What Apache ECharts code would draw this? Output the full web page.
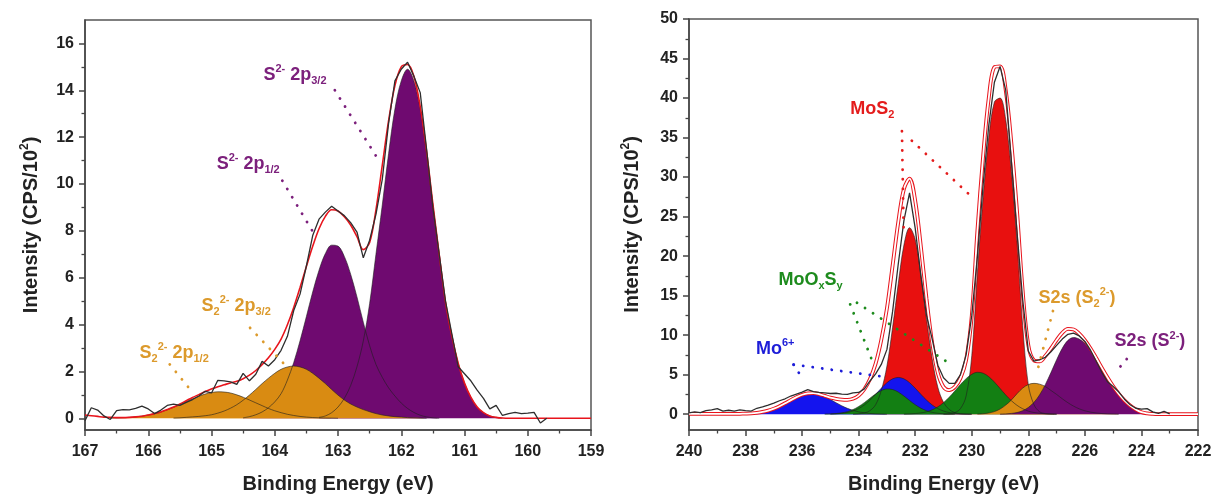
<!DOCTYPE html>
<html>
<head>
<meta charset="utf-8">
<script src="https://cdn.jsdelivr.net/npm/echarts@6/dist/echarts.min.js"></script>
<style>
html,body{margin:0;padding:0;background:#fff;}
#c{width:1215px;height:499px;}
</style>
</head>
<body>
<div id="c"></div>
<script>
// ---------- LEFT PANEL (S 2p), 0.1 eV steps, energies decreasing from start ----------
const leftStep = 0.1;
const leftDataStart = 167.0;
const leftData = [-0.1,0.45,0.35,0.1,-0.05,0.33,0.37,0.36,0.42,0.52,0.4,0.2,0.35,0.55,0.6,0.55,0.68,0.8,0.95,1.15,
  1.08,1.62,1.6,1.55,1.45,1.92,1.6,1.88,2.43,2.23,2.5,2.9,3.5,4.6,5.3,6.5,7.8,8.5,8.8,9.05,
  8.85,8.65,8.35,7.95,6.85,7.6,8.7,10.2,12.6,14.4,14.9,15.2,14.6,13.9,11.5,9.0,7.0,5.0,3.6,2.2,
  1.9,1.6,1.2,0.85,0.4,0.55,0.12,0.2,0.25,0.2,0.22,0.25,-0.2,0.0];
const leftEnvStart = 167.0;
const leftEnv = [0.14,0.11,0.08,0.05,0.04,0.03,0.03,0.04,0.06,0.09,0.14,0.2,0.27,0.37,0.48,0.61,0.75,0.89,1.01,1.14,
  1.25,1.35,1.43,1.51,1.58,1.69,1.84,2.04,2.29,2.58,2.94,3.38,3.99,4.73,5.58,6.48,7.34,8.09,8.62,8.9,
  8.85,8.6,8.25,7.75,7.2,7.5,8.9,10.8,12.7,14.2,15.0,15.1,14.6,13.3,11.4,9.15,7.0,4.95,3.5,2.35,
  1.5,0.9,0.48,0.24,0.1,0.04,0.01,0,0,0,0,0,0,0,0,0,0,0,0,0,0];
const leftS2p32Start = 163.3;   // S2- 2p3/2
const leftS2p32 = [0.04,0.1,0.24,0.48,0.85,1.4,2.2,3.3,4.9,7.0,9.1,11.3,13.2,14.4,14.9,14.4,13.2,11.3,9.1,7.0,
  4.9,3.5,2.35,1.5,0.9,0.48,0.24,0.1,0.04,0];
const leftS2p12Start = 164.5;   // S2- 2p1/2
const leftS2p12 = [0.02,0.07,0.15,0.27,0.45,0.7,1.05,1.63,2.38,3.31,4.34,5.39,6.32,7.03,7.39,7.35,6.91,6.15,5.18,4.1,
  3.1,2.3,1.75,1.3,0.95,0.65,0.42,0.25,0.13,0.06,0.02,0];
const leftS22p32Start = 165.6;  // S2 2- 2p3/2
const leftS22p32 = [0.01,0.02,0.04,0.06,0.08,0.11,0.15,0.22,0.31,0.43,0.58,0.77,0.99,1.23,1.48,1.71,1.92,2.09,2.19,2.23,
  2.19,2.09,1.92,1.71,1.48,1.23,0.99,0.78,0.61,0.48,0.37,0.28,0.2,0.14,0.1,0.07,0.05,0.03,0.02,0.01,0];
const leftS22p12Start = 166.6;  // S2 2- 2p1/2
const leftS22p12 = [0.01,0.014,0.024,0.038,0.061,0.093,0.137,0.196,0.27,0.362,0.468,0.586,0.71,0.83,0.94,1.035,1.1,1.13,1.12,1.08,
  1.0,0.9,0.78,0.66,0.54,0.42,0.32,0.24,0.17,0.12,0.079,0.051,0.032,0.019,0.01,0.006,0];
const leftYLabels = [0,2,4,6,8,10,12,14,16];
const leftYMinor = [1,3,5,7,9,11,13,15];

// ---------- RIGHT PANEL (Mo 3d / S 2s), 0.2 eV steps ----------
const rightStep = 0.2;
const rightDataStart = 240.0;
const rightData = [0.17,0.3,0.2,0.45,0.55,0.71,0.38,0.5,0.4,0.55,0.45,0.4,0.75,0.92,1.15,1.4,1.7,1.95,2.3,2.55,
  2.8,3.1,2.85,2.75,2.7,2.62,2.65,2.55,2.5,2.7,2.75,3.2,4.2,5.1,6.3,8.2,13.0,19.0,24.5,28.0,
  23.5,17.5,12.5,9.5,6.2,4.6,3.9,3.9,5.0,7.5,12.5,20.0,29.0,36.5,42.0,44.0,41.0,32.0,23.0,14.5,
  8.0,6.7,6.9,7.2,7.9,8.7,9.5,10.1,10.25,9.9,9.2,8.1,6.7,5.3,4.1,3.5,2.8,1.9,1.2,0.75,
  0.65,0.7,0.3,0.1,0.35,0.05];
const rightEnvStart = 240.0;
const rightEnv = [0.05,0.05,0.04,0.04,0.03,0.03,0.03,0.03,0.03,0.05,0.07,0.1,0.17,0.28,0.46,0.7,1.0,1.38,1.78,2.16,
  2.46,2.63,2.66,2.54,2.32,2.1,1.95,1.85,1.82,1.95,2.35,3.15,4.45,6.4,9.4,13.4,18.8,24.3,28.5,29.8,
  27.0,21.2,14.6,9.0,5.2,3.45,3.05,3.45,4.56,6.84,12.45,23.3,32.6,40.0,43.9,44.0,41.0,34.3,25.7,15.6,
  8.7,6.8,6.67,7.37,8.32,9.38,10.28,10.79,10.72,10.18,9.36,8.31,7.11,5.86,4.64,3.53,2.57,1.75,1.1,0.6,
  0.25,0.1,0.04,0.01,0,0,0,0,0,0,0];
const rightMo6aStart = 238.2;
const rightMo6a = [0.02,0.04,0.08,0.15,0.26,0.44,0.68,0.99,1.37,1.77,2.15,2.45,2.62,2.64,2.49,2.21,1.85,1.45,1.07,0.74,
  0.48,0.29,0.17,0.09,0.05,0.02,0];
const rightMo6bStart = 235.0;
const rightMo6b = [0.02,0.04,0.1,0.21,0.4,0.71,1.17,1.78,2.51,3.29,3.99,4.47,4.65,4.47,3.99,3.29,2.51,1.78,1.17,0.71,
  0.4,0.21,0.1,0.04,0.02,0];
const rightMoOxaStart = 235.2;
const rightMoOxa = [0.02,0.04,0.08,0.17,0.32,0.58,0.97,1.46,2.02,2.57,2.99,3.19,3.12,2.8,2.3,1.74,1.2,0.76,0.44,0.23,
  0.11,0.05,0.02,0];
const rightMoOxbStart = 232.4;
const rightMoOxb = [0.02,0.04,0.08,0.16,0.31,0.55,0.93,1.46,2.14,2.93,3.76,4.5,5.05,5.3,5.19,4.75,4.07,3.26,2.44,1.71,
  1.12,0.69,0.39,0.21,0.11,0.05,0.02,0];
const rightMoS2aStart = 234.2;
const rightMoS2a = [0.01,0.05,0.15,0.45,1.2,3.0,6.1,11.0,16.5,21.4,23.6,22.1,17.6,12.0,7.0,3.4,1.5,0.6,0.2,0.06,0.02,0];
const rightMoS2bStart = 231.0;
const rightMoS2b = [0.02,0.05,0.2,0.7,2.3,7.4,18.0,27.4,35.0,39.5,40.0,37.3,30.7,21.8,11.2,3.7,1.2,0.3,0.08,0.03,0];
const rightS22Start = 229.8;
const rightS22 = [0.02,0.06,0.15,0.33,0.65,1.15,1.8,2.6,3.3,3.75,3.9,3.8,3.5,3.0,2.5,1.95,1.45,1.02,0.68,0.43,
  0.26,0.15,0.08,0.04,0.02,0];
const rightS2Start = 229.0;
const rightS2 = [0.01,0.04,0.1,0.21,0.44,0.85,1.5,2.46,3.74,5.27,6.88,8.33,9.34,9.7,9.5,8.93,8.05,6.96,5.78,4.6,
  3.51,2.57,1.75,1.1,0.6,0.25,0.1,0.04,0.01,0];
const rightYLabels = [0,5,10,15,20,25,30,35,40,45,50];
const rightYMinor = [2.5,7.5,12.5,17.5,22.5,27.5,32.5,37.5,42.5,47.5];

// ---------- helpers ----------
function pairs(start, step, vals) {
  return vals.map((v, i) => [Math.round((start - i * step) * 100) / 100, v]);
}
const FONT = '"Liberation Sans", Arial, Helvetica, sans-serif';
const C = {
  purple: '#6f0a70', orange: '#d98b12', red: '#e8100f', blue: '#1414ee', green: '#137f13',
  lPurple: '#7c207c', lOrange: '#dc9a2c', lRed: '#e41c1c', lGreen: '#1d8b1d', lBlue: '#1d1dd8'
};
const OUTLINE = { color: 'rgba(30,30,30,0.85)', width: 0.7 };

function fill(name, xi, yi, data, color, extra) {
  return Object.assign({
    name, type: 'line', xAxisIndex: xi, yAxisIndex: yi, data,
    showSymbol: false, smooth: 0.35, silent: true, animation: false,
    lineStyle: OUTLINE, areaStyle: { color, opacity: 1 }, itemStyle: { color }
  }, extra || {});
}
function plain(name, xi, yi, data, color, width, smooth, extra) {
  return Object.assign({
    name, type: 'line', xAxisIndex: xi, yAxisIndex: yi, data,
    showSymbol: false, smooth: smooth, silent: true, animation: false,
    lineStyle: { color, width }, itemStyle: { color }
  }, extra || {});
}
const richBase = {
  m: { fontSize: 18, fontWeight: 'bold', fontFamily: FONT },
  sup: { fontSize: 11, fontWeight: 'bold', fontFamily: FONT, padding: [0, 0, 12, 0] },
  sub: { fontSize: 11, fontWeight: 'bold', fontFamily: FONT, padding: [12, 0, 0, 0] }
};
function lbl(coord, text, color) {
  return { coord, label: { show: true, position: 'inside', formatter: text, color, rich: richBase } };
}
function dots(a, b, color) {
  return [{ coord: a, lineStyle: { color, type: [0.1, 9.5], width: 2.8, cap: 'round' } }, { coord: b }];
}
function markers(labels, lines) {
  return {
    markPoint: { symbol: 'circle', symbolSize: 1, silent: true, animation: false,
      itemStyle: { color: 'rgba(0,0,0,0)' }, data: labels },
    markLine: { symbol: ['none', 'none'], silent: true, animation: false,
      label: { show: false }, emphasis: { disabled: true }, data: lines }
  };
}

const axisText = { fontSize: 16, fontWeight: 'bold', color: '#222', fontFamily: FONT };
const nameText = { fontSize: 20, fontWeight: 'bold', color: '#222', fontFamily: FONT };
const axLine = { show: true, onZero: false, lineStyle: { color: '#444', width: 1.5 } };

function xAx(gi, min, max, interval) {
  return {
    type: 'value', gridIndex: gi, min, max, interval, inverse: true,
    axisLine: axLine,
    axisTick: { show: true, length: 6, lineStyle: { color: '#444', width: 1.5 } },
    minorTick: { show: true, splitNumber: 2, length: 3.5, lineStyle: { color: '#444', width: 1.3 } },
    axisLabel: Object.assign({ margin: 14 }, axisText),
    splitLine: { show: false }, minorSplitLine: { show: false },
    name: 'Binding Energy (eV)', nameLocation: 'middle', nameGap: 44, nameTextStyle: nameText
  };
}
function yAx(gi, min, max, labels, gap) {
  return {
    type: 'value', gridIndex: gi, min, max,
    axisLine: axLine,
    axisTick: { show: true, length: 6, customValues: labels, lineStyle: { color: '#444', width: 1.5 } },
    axisLabel: Object.assign({ margin: 11, customValues: labels }, axisText),
    splitLine: { show: false },
    name: '{n|Intensity (CPS/10}{s|2}{n|)}', nameLocation: 'middle', nameGap: gap,
    nameTextStyle: { rich: {
      n: nameText,
      s: { fontSize: 12, fontWeight: 'bold', color: '#222', fontFamily: FONT, padding: [0, 0, 13, 0] } } }
  };
}
function yMinor(gi, min, max, vals) {
  return {
    type: 'value', gridIndex: gi, min, max, position: 'left',
    axisLine: { show: false },
    axisTick: { show: true, length: 3.5, customValues: vals, lineStyle: { color: '#444', width: 1.3 } },
    axisLabel: { show: false }, splitLine: { show: false }
  };
}

const leftSeries = [
  fill('S2- 2p3/2', 0, 0, pairs(leftS2p32Start, leftStep, leftS2p32), C.purple),
  fill('S2- 2p1/2', 0, 0, pairs(leftS2p12Start, leftStep, leftS2p12), C.purple),
  fill('S2 2- 2p3/2', 0, 0, pairs(leftS22p32Start, leftStep, leftS22p32), C.orange),
  fill('S2 2- 2p1/2', 0, 0, pairs(leftS22p12Start, leftStep, leftS22p12), C.orange),
  plain('Envelope L', 0, 0, pairs(leftEnvStart, leftStep, leftEnv), '#e8141c', 1.6, 0.35),
  plain('Data L', 0, 0, pairs(leftDataStart, leftStep, leftData), '#2e2e2e', 1.3, false,
    markers([
      lbl([163.68, 14.66], '{m|S}{sup|2-}{m| 2p}{sub|3/2}', C.lPurple),
      lbl([164.42, 10.85], '{m|S}{sup|2-}{m| 2p}{sub|1/2}', C.lPurple),
      lbl([164.61, 4.79], '{m|S}{sub|2}{sup|2-}{m| 2p}{sub|3/2}', C.lOrange),
      lbl([165.59, 2.8], '{m|S}{sub|2}{sup|2-}{m| 2p}{sub|1/2}', C.lOrange)
    ], [
      dots([163.05, 14.0], [162.33, 10.9], C.lPurple),
      dots([163.88, 10.14], [163.41, 8.02], C.lPurple),
      dots([164.39, 3.86], [163.86, 2.34], C.lOrange),
      dots([165.66, 2.3], [165.34, 1.24], C.lOrange)
    ]))
];

const rightSeries = [
  fill('MoS2 3d3/2', 1, 2, pairs(rightMoS2aStart, rightStep, rightMoS2a), C.red),
  fill('MoS2 3d5/2', 1, 2, pairs(rightMoS2bStart, rightStep, rightMoS2b), C.red),
  fill('Mo6+ a', 1, 2, pairs(rightMo6aStart, rightStep, rightMo6a), C.blue),
  fill('Mo6+ b', 1, 2, pairs(rightMo6bStart, rightStep, rightMo6b), C.blue),
  fill('MoOxSy a', 1, 2, pairs(rightMoOxaStart, rightStep, rightMoOxa), C.green),
  fill('MoOxSy b', 1, 2, pairs(rightMoOxbStart, rightStep, rightMoOxb), C.green),
  fill('S2s S2 2-', 1, 2, pairs(rightS22Start, rightStep, rightS22), C.orange),
  fill('S2s S2-', 1, 2, pairs(rightS2Start, rightStep, rightS2), C.purple),
  plain('Envelope R', 1, 2, pairs(rightEnvStart, rightStep, rightEnv), '#e8141c', 3.8, 0.35),
  plain('Envelope R core', 1, 2, pairs(rightEnvStart, rightStep, rightEnv), '#ffffff', 1.8, 0.35),
  plain('Data R', 1, 2, pairs(rightDataStart, rightStep, rightData), '#2e2e2e', 1.3, false,
    markers([
      lbl([233.52, 38.56], '{m|MoS}{sub|2}', C.lRed),
      lbl([235.7, 17.0], '{m|MoO}{sub|x}{m|S}{sub|y}', C.lGreen),
      lbl([236.95, 8.2], '{m|Mo}{sup|6+}', C.lBlue),
      lbl([226.28, 14.7], '{m|S2s (S}{sub|2}{sup|2-}{m|)}', C.lOrange),
      lbl([223.7, 9.2], '{m|S2s (S}{sup|2-}{m|)}', C.lPurple)
    ], [
      dots([232.47, 35.8], [232.41, 23.3], C.lRed),
      dots([232.12, 34.6], [230.0, 27.5], C.lRed),
      dots([234.3, 13.9], [233.44, 6.0], C.lGreen),
      dots([234.06, 14.1], [230.76, 6.35], C.lGreen),
      dots([236.3, 6.27], [233.18, 4.77], C.lBlue),
      dots([236.3, 6.27], [235.95, 4.3], C.lBlue),
      dots([227.13, 13.05], [227.68, 5.5], C.lOrange),
      dots([224.52, 6.98], [224.87, 5.5], C.lPurple)
    ]))
];

const chart = echarts.init(document.getElementById('c'), null, { renderer: 'canvas' });
chart.setOption({
  backgroundColor: '#ffffff',
  animation: false,
  grid: [
    { left: 85, top: 20, width: 506, height: 413, show: true, borderColor: '#555', borderWidth: 1.5, backgroundColor: 'transparent' },
    { left: 689, top: 19, width: 509, height: 414, show: true, borderColor: '#555', borderWidth: 1.5, backgroundColor: 'transparent' }
  ],
  xAxis: [xAx(0, 159, 167, 1), xAx(1, 222, 240, 2)],
  yAxis: [
    yAx(0, -0.5, 17, leftYLabels, 41), yMinor(0, -0.5, 17, leftYMinor),
    yAx(1, -2, 50, rightYLabels, 44), yMinor(1, -2, 50, rightYMinor)
  ],
  series: leftSeries.concat(rightSeries)
});
</script>
</body>
</html>
